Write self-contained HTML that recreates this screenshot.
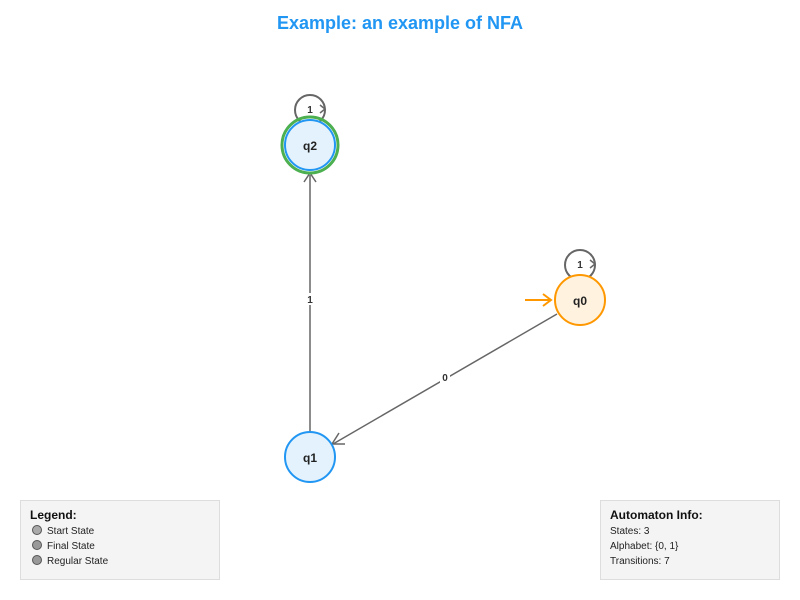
<!DOCTYPE html>
<html><head><style>body{margin:0;background:#fff}svg{display:block;font-family:"Liberation Sans",Arial,sans-serif}</style></head>
<body>
<svg width="800" height="600" viewBox="0 0 800 600">
<text x="400" y="29" text-anchor="middle" font-size="18" font-weight="bold" fill="#2196f3">Example: an example of NFA</text>
<!-- q1 -> q2 -->
<line x1="310" y1="432" x2="310" y2="175" stroke="#666" stroke-width="1.5"/>
<polyline points="304,182 310,173 316,182" fill="none" stroke="#666" stroke-width="1.5"/>
<rect x="306" y="293" width="8" height="12" fill="#fff"/>
<text x="310" y="303" text-anchor="middle" font-size="10" font-weight="bold" fill="#333">1</text>
<!-- q0 -> q1 -->
<line x1="557" y1="314" x2="333" y2="444" stroke="#666" stroke-width="1.5"/>
<polyline points="339,433 332,444 345,444" fill="none" stroke="#666" stroke-width="1.5"/>
<rect x="440" y="372" width="10" height="11" fill="#fff"/>
<text x="445" y="381" text-anchor="middle" font-size="10" font-weight="bold" fill="#333">0</text>
<!-- loops -->
<circle cx="310" cy="110" r="15" fill="none" stroke="#666" stroke-width="2"/>
<rect x="305" y="103" width="10" height="12" fill="#fff"/>
<text x="310" y="113" text-anchor="middle" font-size="10" font-weight="bold" fill="#333">1</text>
<polyline points="320,105 325,109 320,113" fill="none" stroke="#666" stroke-width="1.5"/>
<circle cx="580" cy="265" r="15" fill="none" stroke="#666" stroke-width="2"/>
<rect x="575" y="258" width="10" height="12" fill="#fff"/>
<text x="580" y="268" text-anchor="middle" font-size="10" font-weight="bold" fill="#333">1</text>
<polyline points="590,260 595,264 590,268" fill="none" stroke="#666" stroke-width="1.5"/>
<!-- start arrow -->
<line x1="525" y1="300" x2="551" y2="300" stroke="#ff9800" stroke-width="2"/>
<polyline points="543,294 551,300 543,306" fill="none" stroke="#ff9800" stroke-width="2"/>
<!-- states -->
<circle cx="310" cy="145" r="28" fill="none" stroke="#4caf50" stroke-width="3"/>
<circle cx="310" cy="145" r="25" fill="#e3f2fd" stroke="#2196f3" stroke-width="2"/>
<text x="310" y="150" text-anchor="middle" font-size="12" font-weight="bold" fill="#222">q2</text>
<circle cx="310" cy="457" r="25" fill="#e3f2fd" stroke="#2196f3" stroke-width="2"/>
<text x="310" y="462" text-anchor="middle" font-size="12" font-weight="bold" fill="#222">q1</text>
<circle cx="580" cy="300" r="25" fill="#fff3e0" stroke="#ff9800" stroke-width="2"/>
<text x="580" y="305" text-anchor="middle" font-size="12" font-weight="bold" fill="#222">q0</text>
<!-- legend -->
<rect x="20.5" y="500.5" width="199" height="79" fill="#f4f4f4" stroke="#ddd"/>
<text x="30" y="519" font-size="12" font-weight="bold" fill="#111">Legend:</text>
<circle cx="37" cy="530" r="4.5" fill="#aaa" stroke="#555"/>
<text x="47" y="534" font-size="10" fill="#222">Start State</text>
<circle cx="37" cy="545" r="4.5" fill="#999" stroke="#555"/>
<text x="47" y="549" font-size="10" fill="#222">Final State</text>
<circle cx="37" cy="560" r="4.5" fill="#999" stroke="#555"/>
<text x="47" y="564" font-size="10" fill="#222">Regular State</text>
<!-- info -->
<rect x="600.5" y="500.5" width="179" height="79" fill="#f4f4f4" stroke="#ddd"/>
<text x="610" y="519" font-size="12" font-weight="bold" fill="#111">Automaton Info:</text>
<text x="610" y="534" font-size="10" fill="#222">States: 3</text>
<text x="610" y="549" font-size="10" fill="#222">Alphabet: {0, 1}</text>
<text x="610" y="564" font-size="10" fill="#222">Transitions: 7</text>
</svg>
</body></html>
